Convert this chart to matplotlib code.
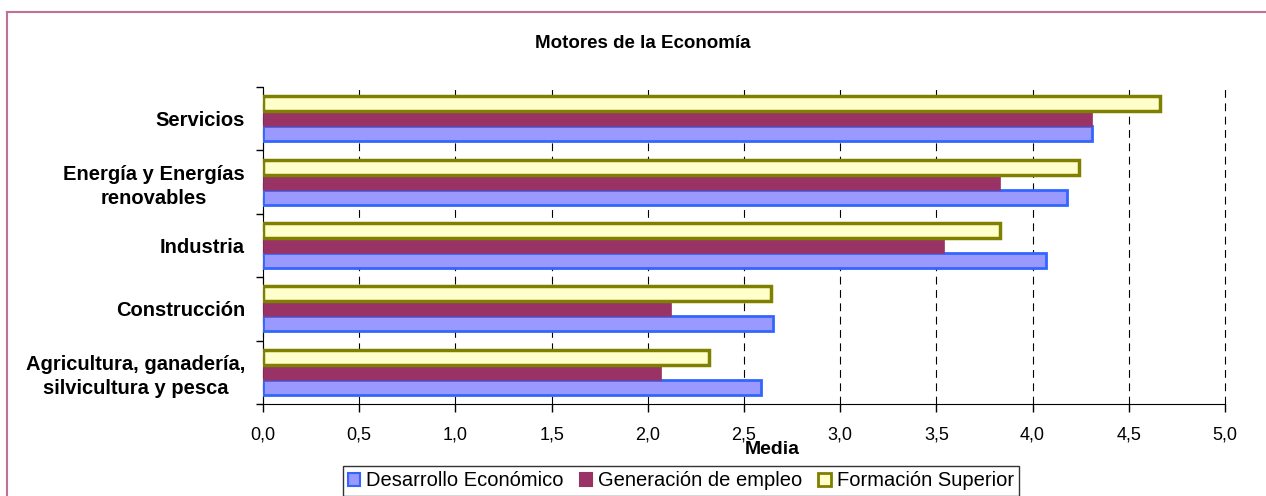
import matplotlib
matplotlib.use("Agg")
import matplotlib.pyplot as plt
from matplotlib.lines import Line2D
from matplotlib.patches import Patch
import numpy as np

plt.rcParams['font.family'] = ['Liberation Sans', 'DejaVu Sans']

# Datos (de abajo hacia arriba)
sectores = ["Agricultura, ganadería,\nsilvicultura y pesca", "Construcción", "Industria",
            "Energía y Energías\nrenovables", "Servicios"]
desarrollo = [2.59, 2.65, 4.07, 4.18, 4.31]
generacion = [2.07, 2.12, 3.54, 3.83, 4.31]
formacion = [2.32, 2.64, 3.83, 4.24, 4.66]
series = ["Desarrollo Económico", "Generación de empleo", "Formación Superior"]
xticks = [0.0, 0.5, 1.0, 1.5, 2.0, 2.5, 3.0, 3.5, 4.0, 4.5, 5.0]

fig = plt.figure(figsize=(12.66, 4.96), dpi=100)
ax = fig.add_axes([263 / 1266, 1 - 404 / 496, (1225 - 263) / 1266, (404 - 87) / 496])

y = np.arange(len(sectores))
h = 0.237
ax.barh(y - h, desarrollo, h, color="#9999FF", edgecolor="#3366FF", linewidth=2, zorder=3)
ax.barh(y, generacion, h, color="#993366", edgecolor="#993366", linewidth=0.5, zorder=3)
ax.barh(y + h, formacion, h, color="#FFFFCC", edgecolor="#808000", linewidth=2.5, zorder=4)

ax.set_xlim(0, 5)
ax.set_ylim(-0.5, len(sectores) - 0.5)
ax.set_xticks(xticks)
ax.set_xticklabels([("%.1f" % v).replace(".", ",") for v in xticks], fontsize=13)
ax.tick_params(axis="x", direction="out", length=6, width=1, pad=10)
ax.set_yticks(y)
ax.set_yticklabels(sectores, fontsize=14.5, fontweight="bold", multialignment="center",
                   linespacing=1.3)
ax.tick_params(axis="y", which="major", length=0, pad=13)
ax.set_yticks(np.arange(-0.5, len(sectores)), minor=True)
ax.tick_params(axis="y", which="minor", direction="out", length=5, width=1)

ax.xaxis.grid(True, color="black", linestyle=(0, (7, 5)), linewidth=0.8)
for gl in ax.get_xgridlines():
    gl.set_clip_on(False)
ax.set_axisbelow(True)
for s in ["top", "right"]:
    ax.spines[s].set_visible(False)
ax.spines["left"].set_color("black")
ax.spines["bottom"].set_color("black")

fig.text(643 / 1266, 1 - 43 / 496, "Motores de la Economía", ha="center", va="center",
         fontsize=13.5, fontweight="bold")
fig.text(772 / 1266, 1 - 450 / 496, "Media", ha="center", va="center",
         fontsize=14, fontweight="bold")

handles = [Patch(facecolor="#9999FF", edgecolor="#3366FF", linewidth=1.5),
           Patch(facecolor="#993366", edgecolor="#993366", linewidth=1.5),
           Patch(facecolor="#FFFFCC", edgecolor="#808000", linewidth=2)]
leg = fig.legend(handles, series, loc="center", bbox_to_anchor=(681 / 1266, 1 - 481 / 496),
                 ncol=3, fontsize=14.5, frameon=True, fancybox=False, handlelength=0.6,
                 handleheight=0.6, handletextpad=0.3, columnspacing=0.8, borderpad=0.25,
                 borderaxespad=0)
leg.get_frame().set_edgecolor("black")
leg.get_frame().set_linewidth(1)

# borde del gráfico (solo arriba e izquierda visibles)
fig.add_artist(Line2D([7 / 1266, 7 / 1266], [0, 1 - 12 / 496], color="#C0709A", linewidth=1.5))
fig.add_artist(Line2D([7 / 1266, 1], [1 - 12 / 496, 1 - 12 / 496], color="#C0709A", linewidth=1.5))

fig.savefig("out.png", dpi=100)
